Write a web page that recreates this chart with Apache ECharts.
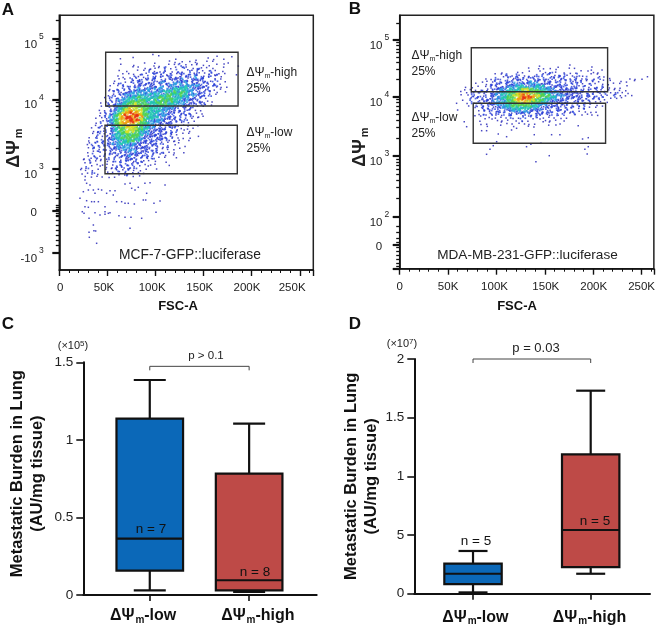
<!DOCTYPE html>
<html><head><meta charset="utf-8">
<style>html,body{margin:0;padding:0;background:#fff}#c{width:658px;height:631px}</style>
<script src="https://cdn.jsdelivr.net/npm/echarts@6/dist/echarts.min.js"></script>
</head><body><div id="c"></div>
<script>
// Density cells: level 1 (blue) .. 8 (red), '.' empty. Y is display channel, X is FSC-A in K.
const densityRowsA = [
"...................................1",
"...................1......1.1..................1....1",
"...............1..................1.....1...1.1...1",
".......................1...1...1.1..1.1.11..1.1....1",
"...............1....1.....1.1..1.1.2.1.1.1.1.1.1..1...1",
"...................1.1.1.1.11.2.1.1.21.1.21.1.1...1",
"...............1.1...1.1.21.1.2.1.2.1.21.2.1.2.1.1",
"................1.1.1.2.1.22.2.12.122.2.22.1.2.21.1...1",
"..............1.1.1.21.12.22.2.22.22.22.3.22.2.1.1",
".............1.1.1.2.22.2.22.22.222232.22222.1.2.1",
".............1.2.1.2.22.222.2322.33323.222.22.2.1.1",
"............1.1.2.2.2222.222.3.23323343333222.22.1.1",
"............1.2.2.2.2322332333.334444433222.2.1.1",
"...........1.2.2.22333333333334445445433.222.2.1..1",
"...........1.2.22333344334344445544544333222.2.1",
"..........1.2.2.3344454444445545544433322.2.1",
"..........1.2.23344555554445455454433322.22.1.1",
".........1.2.2334455655554445554443332222.22.1",
".........1.2.2344566665554444433332.22.2.1.1",
"........1.1.2234567766655444433322.2.22.1.1",
"........1.2.2345677877655444333222.22.2.1.1",
"........1.2.3456788788755444333222.2.2.2.1.1",
".......1.1.23456788878654443332222.2.2.1.1",
".......1.2.2345677787655433332222.2.2.1.1",
".......1.1.2345666766554433222.22.2.1.1..1",
"......1.2.1.2345566665544332222.22.1.1.1",
"......1.2.2.2345566655443222222.2.2.1.1",
"......1.2.1.2344555555433222222.2.1.1.1",
".....1.2.1.22344555554322222222.2.1.1.1..1",
".....1.1.2.2233444554432222222.2.1.1..1",
".....1.2.2.22334444332222222.2.1.1.1",
"....1.2.2.22.233333322222.22.1.2.1...1",
"....1.2.1.2.22233333222222.2.1.1.1.1",
"....1.1.2.1.22.2.23232222.22.2.1.1..1",
"....1.2.1.2.2.2.223222.22.2.1.1..1",
"...1.1.2.1.2.2.2.2222.2.2.2.1.1...1",
"...1.2.1.1.1.2.2.22.2.21.1.1..1",
"...1.1.1.1.1.1.2.2.2.2.1.1.1...1",
"..1.2.1.1.1.1.2.2.2.2.1.1",
"..1.1.1.1.1.1.2.1.2.1.1.1..1",
"..1.1.2.1..1.1.1.2.1.1.1",
"...1.1.1.1.1.1.1.2.1..1"
];
const densityRowsB = [
"............................1.....1...1.......1",
".........................1..1.1.1.1...1.1....1...1",
"................1....1.1.1..1.1.2.1.1.1.1.1.1.1.1",
".............1.1.2.1.2.1.1.2.2.2.1.2.2.1.2.1.1.1",
"..........1.1.2.1.2.22.2.22.2.2.22.22.1.2.1.2.1.2.1.1.....1.1.1.1",
".........1.1.2.2.222.22.23.22.222.22.2.22.2.1.2.1.1.1..1.1..1",
".......1..1.2.22.2223332233332222.22.2.2.2.1.2.1.1.1.1.1",
"....1.1.1.1.2.222233344443344433222222.222.2.1.2.2.1.1.1.1",
"...1.1.1.2.2.2233344445665555443332222222.22.2.2.1.1.1.1.1",
"..1.1.2.2.2.2233445556767665554433322222222.2.2.2.2.1.2.1.1",
"..1.1.2.2.2.2233445566787876655544333222222.22.2.2.1.2.1.1.1",
"...1.2.2.2.22233445567787765554433322222.22.2.2.2.1.1.1.1",
"....1.2.2.22233344555667665554433222222.22.2.2.1.1.1",
".....1.2.2.222333445555555443332222.22.2.2.2.1.1.1",
".......1.2.2.22233344444443332222.22.2.2.1.2.1.1",
"........1.2.2.22.2233333322222.22.22.2.2.1.1.1.1",
"........1.2.2.2.2.22.222.2.222.22.2.2.1.2.1.1.1.1",
".......1.1.1.1.1.1.2.1.2.2.2.1.1.1.1.1",
"........1.1.1.1.1.1.1.2.1.1.1.1.1.1.1",
".........1.1...1.1.1.1.1.1.1.1.1...1",
"...........1...1....1...1.1....1..1"
];
// Sparse outlying events [FSC-A K, channel]
const outliersA = [[21.5,71.7],[23.9,58.3],[25.7,56.7],[26.7,63.3],[30.2,62.7],[28.4,69.3],[33.6,68.3],[36.4,68.3],[40.6,68.3],[30.9,51.7],[35.4,45],[36,39.3],[37.8,39],[30.9,37.7],[31.2,32.7],[38.8,26.7],[37.1,57.3],[42.3,55],[47.5,58.3],[47.5,55.7],[51,56.7],[52.7,57.3],[47.5,63.3],[49.2,76.7],[52.7,79.3],[56.1,75],[57.9,79.3],[59.6,68.3],[64.8,68.3],[68.3,66.7],[71.7,66.7],[78,66],[62,54.3],[68.3,52.7],[74.5,52.7],[85.6,51.7],[73.5,41.7],[100.5,57.7],[98.4,66.7],[104.7,69],[90.8,76.7],[87.3,70],[89.8,70],[75.2,81.7],[78.7,80],[82.1,82.7],[68.3,86],[73.5,86.7],[89,86.7],[94.3,87.3],[109.9,85],[26.7,90],[28.4,86.7],[31.9,85],[35.4,80],[37.1,76.7],[40.6,80.7],[44,80],[30.2,80],[25,78.3]];
const outliersB = [[84.7,138],[89.8,138],[101.9,134.7],[110.5,132],[139.1,134],[157,134],[165.6,134],[184.5,143],[189,129.7],[194.9,131],[100.2,127],[96.7,123],[93.3,119.4],[89.8,114.4],[131.1,122],[135.6,124.4],[146,125.4],[154.6,113],[140.8,107],[191.4,119.4],[194.9,122],[193.8,114.7],[120.8,140.4],[115.6,138.7],[69.2,142],[66.7,147],[58.8,165.4],[59.9,158.7]];
// Gates [x0,x1,y0,y1]
const gatesA = [[48.2,185.8,164,217.7],[47.5,185,96.3,144.7]];
const gatesB = [[74,214.9,177,221],[76,212.8,125.4,165.4]];
// Biexponential axis positions in display channels
const yMajorA = [231.3,170.7,101,59.3,17.3];
const yMajorLabelsA = ['10^5','10^4','10^3','0','-10^3'];
const yMinorA = [249.5,228.4,225.4,221.9,217.9,213,207,199.6,189,167.5,164,159.9,155.2,149.7,143,134.3,122,96,90.7,86.7,81.7,76.7,71.7,65,63,61,57,55,53.3,50,45,40,35,30,25];
const yMajorB = [228.7,172,112.7,52,23.7,0];
const yMajorLabelsB = ['10^5','10^4','10^3','10^2','0',''];
const yMinorB = [245.8,226.1,223.2,219.9,216.1,211.6,206.1,199,189,169.3,166.3,162.8,158.8,154.2,148.4,141,130.6,109.9,106.8,103.3,99.2,94.4,88.5,81,70.3,42,36,30,26,21,17,13,9,5,2];
const xLabelsFsc = ['0','50K','100K','150K','200K','250K'];
const xLabelPosA = [1,46.5,96.5,146,195,242];
const xLabelPosB = [0,50,98,151,200.5,250];
// Box stats [x, low, q1, median, q3, high]
const boxC = [[1,0.03,0.157,0.363,1.137,1.386],[2,0.02,0.03,0.095,0.782,1.105]];
const boxD = [[1,0.011,0.082,0.17,0.256,0.364],[2,0.17,0.227,0.543,1.188,1.73]];
const boxColors = ['#0b68b8','#be4a47'];
const yTicksC = ['0','0.5','1','1.5'];
const yTicksD = ['0','5','1','1.5','2'];
const catLabelPosC = [0.933,2.088];
const catLabelPosD = [1.02,1.99];
const catNames = ['low','high'];

const F='"Liberation Sans",Arial,sans-serif';
const LEVEL_COLORS=[null,'#1a1ab4','#2a44dc','#2aa2e2','#22c8b0','#52d24e','#d8e020','#f09a10','#e63010'];
const LEVEL_SIZE=[0,1.5,1.7,2,2,2.1,2.1,2.1,2.2];
// A cell at level L is drawn as this mix of dots, placed inside the cell by the dither table
const CELL_DOTS={1:[1],2:[1,2,2],3:[2,2,3,3],4:[2,3,4,4,4],5:[3,4,5,5,5],6:[5,6,6,6],7:[6,7,7,7],8:[7,8,8,8]};
const DITHER=[-.42,.13,.37,-.21,.48,-.05,-.33,.26,.05,-.47,.41,-.14,.19,-.28,.33,-.09];

function cells(rows,x0,y0,dx,dy){
  const out=[];
  rows.forEach((r,j)=>{for(let i=0;i<r.length;i++){
    if(r[i]==='.') continue;
    CELL_DOTS[+r[i]].forEach((lv,k)=>{
      const ox=DITHER[(i*5+j*3+k*7)%16],oy=DITHER[(i*3+j*7+k*5+4)%16];
      out.push([x0+(i+ox)*dx,y0-(j+oy)*dy,lv]);
    });
  }});
  return out.sort((a,b)=>a[2]-b[2]);
}
function scatterSeries(g,yi,rows,outl,x0,y0,dx,dy){
  const d=cells(rows,x0,y0,dx,dy).concat(outl.map(p=>[p[0],p[1],1]));
  return {type:'scatter',xAxisIndex:g,yAxisIndex:yi,data:d,symbol:'rect',z:2,
    symbolSize:v=>LEVEL_SIZE[v[2]],itemStyle:{color:p=>LEVEL_COLORS[p.value[2]]},silent:true,animation:false};
}
function gateSeries(g,yi,gates){
  return {type:'custom',xAxisIndex:g,yAxisIndex:yi,data:gates,z:5,silent:true,clip:false,
    renderItem:(pr,api)=>{
      const a=api.coord([api.value(0),api.value(3)]),b=api.coord([api.value(1),api.value(2)]);
      return {type:'rect',shape:{x:a[0],y:a[1],width:b[0]-a[0],height:b[1]-a[1]},style:{fill:null,stroke:'#333',lineWidth:1.4}};
    }};
}
function boxSeries(g,yi,data,halfW,capW){
  return {type:'custom',xAxisIndex:g,yAxisIndex:yi,data:data,z:5,silent:true,clip:false,
    renderItem:(pr,api)=>{
      const x=api.value(0),c=v=>api.coord([x,v]);
      const cx=c(0)[0],yl=c(api.value(1))[1],y1=c(api.value(2))[1],ym=c(api.value(3))[1],y3=c(api.value(4))[1],yh=c(api.value(5))[1];
      const st={stroke:'#111',lineWidth:2.2,fill:null};
      const ln=(x1,y1_,x2,y2)=>({type:'line',shape:{x1:x1,y1:y1_,x2:x2,y2:y2},style:st});
      return {type:'group',children:[
        ln(cx,yh,cx,y3),ln(cx-capW,yh,cx+capW,yh),
        ln(cx,y1,cx,yl),ln(cx-capW,yl,cx+capW,yl),
        {type:'rect',shape:{x:cx-halfW,y:y3,width:2*halfW,height:y1-y3},style:{fill:boxColors[pr.dataIndex],stroke:'#111',lineWidth:2.2}},
        ln(cx-halfW,ym,cx+halfW,ym)
      ]};
    }};
}
function bracketSeries(g,yi,xy,leg){
  return {type:'custom',xAxisIndex:g,yAxisIndex:yi,data:[xy],z:5,silent:true,clip:false,
    renderItem:(pr,api)=>{
      const a=api.coord([api.value(0),api.value(2)]),b=api.coord([api.value(1),api.value(2)]);
      return {type:'polyline',shape:{points:[[a[0],a[1]+leg],[a[0],a[1]],[b[0],b[1]],[b[0],b[1]+leg]]},style:{fill:null,stroke:'#444',lineWidth:1}};
    }};
}
const tickRich={b:{fontSize:11.5,fontFamily:F,color:'#222',padding:[12,0,0,0]},s:{fontSize:8.5,fontFamily:F,color:'#222',padding:[0,0,4,2]},e:{fontSize:11.5,fontFamily:F,color:'#222',padding:[4,7,0,0]}};
function fmtExp(s){
  if(!s.includes('^')) return '{e|'+s+'}';
  const [a,b]=s.split('^');
  return '{b|'+a+'}{s|'+b+'}';
}
function flowAxes(g,max,major,labels,minor,margin){
  return [{gridIndex:g,type:'value',min:0,max:max,position:'left',
      axisLine:{show:true,lineStyle:{color:'#111',width:1.6}},splitLine:{show:false},
      axisTick:{show:true,customValues:major,length:7,lineStyle:{color:'#111',width:2.2}},
      axisLabel:{show:true,customValues:major,margin:margin,rich:tickRich,
        formatter:v=>{const i=major.indexOf(v);return i<0?'':fmtExp(labels[i]);}}},
    {gridIndex:g,type:'value',min:0,max:max,position:'left',
      axisLine:{show:false},splitLine:{show:false},axisLabel:{show:false},
      axisTick:{show:true,customValues:minor,length:3.5,lineStyle:{color:'#111',width:1.3}}}];
}
function flowX(g,max,pos){
  return {gridIndex:g,type:'value',min:0,max:max,interval:50,
    axisLine:{show:true,lineStyle:{color:'#111',width:1.6}},splitLine:{show:false},
    axisTick:{show:true,length:6,lineStyle:{color:'#111',width:1.4}},
    minorTick:{show:true,splitNumber:5,length:3,lineStyle:{color:'#111',width:1}},
    axisLabel:{show:true,customValues:pos,margin:12,fontSize:11.5,fontFamily:F,color:'#222',
      formatter:v=>xLabelsFsc[pos.indexOf(v)]||''}};
}
const catRich={a:{fontSize:16,fontWeight:'bold',fontFamily:F,color:'#111'},m:{fontSize:10,fontWeight:'bold',fontFamily:F,color:'#111',padding:[8,0,0,1]}};
function burdenY(g,max,labels,gap,pad){
  return {gridIndex:g,type:'value',min:0,max:max,interval:0.5,
    axisLine:{show:true,lineStyle:{color:'#111',width:2}},splitLine:{show:false},
    axisTick:{show:true,length:7,lineStyle:{color:'#111',width:1.6}},
    axisLabel:{margin:10,fontSize:13.5,fontFamily:F,color:'#222',formatter:v=>labels[Math.round(v*2)]},
    name:'Metastatic Burden in Lung\n(AU/mg tissue)',nameLocation:'middle',nameGap:gap,nameRotate:90,
    nameTextStyle:{fontSize:16.5,fontWeight:'bold',fontFamily:F,color:'#111',lineHeight:20,padding:pad}};
}
function burdenX(g,min,max,lpos,margin){
  return {gridIndex:g,type:'value',min:min,max:max,
    axisLine:{show:true,lineStyle:{color:'#111',width:2}},splitLine:{show:false},
    axisTick:{show:true,customValues:[1,2],length:6,lineStyle:{color:'#111',width:1.6}},
    axisLabel:{show:true,customValues:lpos,margin:margin,rich:catRich,
      formatter:v=>'{a|ΔΨ}{m|m}{a|-'+catNames[lpos.indexOf(v)]+'}'}};
}
function T(x,y,text,o){
  o=o||{};
  return {type:'text',x:x,y:y,rotation:o.rot||0,z:20,silent:true,style:Object.assign({text:text,align:o.align||'center',verticalAlign:'middle',fontFamily:F,fontSize:o.size||12,fontWeight:o.w||'normal',fill:o.fill||'#222'},o.rich?{rich:o.rich}:{})};
}
const gr={a:{fontSize:12,fontFamily:F,color:'#222'},m:{fontSize:7,fontFamily:F,color:'#222',padding:[7,0,0,0]}};
const bigR={a:{fontSize:18,fontWeight:'bold',fontFamily:F,color:'#111'},m:{fontSize:11,fontWeight:'bold',fontFamily:F,color:'#111',padding:[9,0,0,2]}};
const expR={a:{fontSize:11,fontFamily:F,color:'#333'},s:{fontSize:8,fontFamily:F,color:'#333',padding:[0,0,5,0]}};

const graphics=[
  T(8,10,'A',{size:17,w:'bold',fill:'#111'}),T(355,9,'B',{size:17,w:'bold',fill:'#111'}),
  T(8,324,'C',{size:17,w:'bold',fill:'#111'}),T(355,324,'D',{size:17,w:'bold',fill:'#111'}),
  T(14,148,'{a|ΔΨ}{m|m}',{rot:Math.PI/2,rich:bigR}),T(360,147,'{a|ΔΨ}{m|m}',{rot:Math.PI/2,rich:bigR}),
  T(178,306,'FSC-A',{size:13,w:'bold',fill:'#111'}),T(517,306,'FSC-A',{size:13,w:'bold',fill:'#111'}),
  T(246.5,73,'{a|ΔΨ}{m|m}{a|-high}',{align:'left',rich:gr}),T(246.5,88.5,'25%',{align:'left'}),
  T(246.5,133,'{a|ΔΨ}{m|m}{a|-low}',{align:'left',rich:gr}),T(246.5,148.5,'25%',{align:'left'}),
  T(411.5,56,'{a|ΔΨ}{m|m}{a|-high}',{align:'left',rich:gr}),T(411.5,72,'25%',{align:'left'}),
  T(411.5,117.5,'{a|ΔΨ}{m|m}{a|-low}',{align:'left',rich:gr}),T(411.5,133.5,'25%',{align:'left'}),
  T(190,255.5,'MCF-7-GFP::luciferase',{size:13.8}),T(527.5,255.5,'MDA-MB-231-GFP::luciferase',{size:13.6}),
  T(73,346,'{a|(×10}{s|5}{a|)}',{rich:expR}),T(402,344,'{a|(×10}{s|7}{a|)}',{rich:expR}),
  T(206,356,'p > 0.1',{size:11.5}),T(536,348,'p = 0.03',{size:13}),
  T(151,529,'n = 7',{size:13.5,fill:'#111'}),T(255,572,'n = 8',{size:13.5,fill:'#111'}),
  T(476,541.5,'n = 5',{size:13.5,fill:'#111'}),T(595,521,'n = 5',{size:13.5,fill:'#111'})
];

const chart=echarts.init(document.getElementById('c'),null,{renderer:'canvas'});
chart.setOption({
  animation:false,backgroundColor:'#fff',
  grid:[
    {left:59.3,top:15.3,width:254,height:254.7,show:true,borderColor:'#222',borderWidth:1.5},
    {left:399.7,top:15.3,width:254.3,height:253.4,show:true,borderColor:'#222',borderWidth:1.5},
    {left:83.3,top:362.3,width:233.4,height:232.7},
    {left:414.3,top:359,width:235.7,height:234.7}
  ],
  xAxis:[flowX(0,264,xLabelPosA),flowX(1,262.7,xLabelPosB),burdenX(2,0.331,2.68,catLabelPosC,12),burdenX(3,0.501,2.504,catLabelPosD,15)],
  yAxis:[...flowAxes(0,254.7,yMajorA,yMajorLabelsA,yMinorA,15.5),...flowAxes(1,253.4,yMajorB,yMajorLabelsB,yMinorB,10.5),burdenY(2,1.5,yTicksC,36,[0,0,0,10]),burdenY(3,2,yTicksD,30,[0,0,0,0])],
  series:[
    scatterSeries(0,0,densityRowsA,outliersA,16.3,217,3.12,3),
    gateSeries(0,0,gatesA),
    scatterSeries(1,2,densityRowsB,outliersB,57.1,202.7,3.1,3),
    gateSeries(1,2,gatesB),
    boxSeries(2,4,boxC,33.3,16),
    bracketSeries(2,4,[1,2,1.474],4),
    boxSeries(3,5,boxD,28.7,14.5),
    bracketSeries(3,5,[1,2,2],4)
  ],
  graphic:graphics
});
</script></body></html>
